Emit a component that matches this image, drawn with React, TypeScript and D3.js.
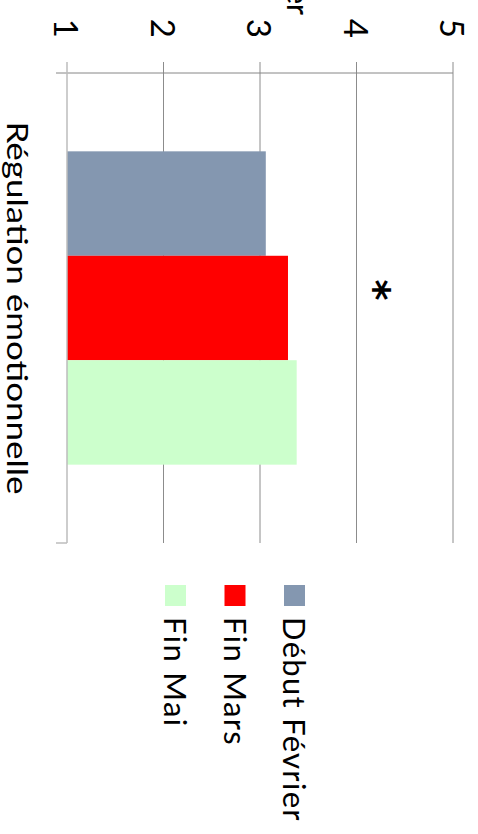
import React from "react";
import * as d3 from "d3";

// Mean scores per survey period (scale 1–5)
const categories = ["Régulation émotionnelle"];
const periods = ["Début Février", "Fin Mars", "Fin Mai"];
const scores = [[3.06, 3.29, 3.38]];
const periodColors = ["#8497B0", "#FF0000", "#CCFFCC"];
const valueTicks = [1, 2, 3, 4, 5];
const significance = [{ category: "Régulation émotionnelle", value: 4.25, mark: "*" }];
const axisTitle = "Février";

// Chart is laid out in a landscape frame, then turned a quarter-turn onto the page.
const PAGE_W = 478;
const PAGE_H = 834;
const FONT = "Lato, 'Open Sans', sans-serif";

export default function App() {
  const x = d3
    .scaleBand<string>()
    .domain(categories)
    .range([73, 543])
    .paddingInner(0)
    .paddingOuter(0.25);
  const xs = d3.scaleBand<string>().domain(periods).range([0, x.bandwidth()]);
  const y = d3.scaleLinear().domain([1, 5]).range([411, 25]);

  const plotLeft = 73;
  const plotRight = 543;
  const tickLen = 11;

  return (
    <div style={{ position: "fixed", left: 0, top: 0, width: PAGE_W, height: PAGE_H, background: "#fff" }}>
      <svg width={PAGE_W} height={PAGE_H} style={{ display: "block" }} fontFamily={FONT}>
        <g transform={`translate(${PAGE_W},0) rotate(90)`}>
          {/* partial axis title, running off the top edge */}
          <text x={15} y={191} fontSize={30} textAnchor="end" fill="#000">
            {axisTitle}
          </text>

          {/* gridlines + value ticks */}
          {valueTicks
            .filter((t) => t !== 1)
            .map((t) => (
              <line
                key={t}
                x1={plotLeft - tickLen}
                x2={plotRight}
                y1={y(t)}
                y2={y(t)}
                stroke="#8c8c8c"
                strokeWidth={1}
              />
            ))}

          {/* tick labels */}
          {valueTicks.map((t) => (
            <text
              key={t}
              x={38}
              y={y(t)}
              fontSize={33}
              textAnchor="end"
              dominantBaseline="central"
              fill="#000"
            >
              {t}
            </text>
          ))}

          {/* bars */}
          {categories.map((c, ci) =>
            periods.map((p, pi) => (
              <rect
                key={c + p}
                x={(x(c) ?? 0) + (xs(p) ?? 0)}
                y={y(scores[ci][pi])}
                width={xs.bandwidth()}
                height={y(1) - y(scores[ci][pi])}
                fill={periodColors[pi]}
              />
            ))
          )}

          {/* value axis line */}
          <line
            x1={plotLeft}
            x2={plotLeft}
            y1={y(5)}
            y2={y(1) + tickLen}
            stroke="#868686"
            strokeWidth={1}
          />
          {/* category axis line */}
          <line
            x1={plotLeft - tickLen}
            x2={plotRight}
            y1={y(1)}
            y2={y(1)}
            stroke="#bcbcbc"
            strokeWidth={1.5}
          />
          <line
            x1={plotRight}
            x2={plotRight}
            y1={y(1)}
            y2={y(1) + tickLen}
            stroke="#bcbcbc"
            strokeWidth={1.5}
          />

          {/* category labels */}
          {categories.map((c) => (
            <text
              key={c}
              x={(x(c) ?? 0) + x.bandwidth() / 2}
              y={471}
              fontSize={28}
              textAnchor="middle"
              textLength={373}
              lengthAdjust="spacingAndGlyphs"
              fill="#000"
            >
              {c}
            </text>
          ))}

          {/* significance marks */}
          {significance.map((s) => (
            <text
              key={s.category}
              x={(x(s.category) ?? 0) + x.bandwidth() / 2 - 18}
              y={y(s.value)}
              dy="0.48em"
              fontSize={40}
              fontFamily="'DejaVu Sans', sans-serif"
              fontWeight="bold"
              textAnchor="middle"
              fill="#000"
            >
              {s.mark}
            </text>
          ))}

          {/* legend */}
          {periods.map((p, i) => {
            const cy = 183.5 + i * 59.5;
            return (
              <g key={p}>
                <rect x={585} y={cy - 10.5} width={21} height={21} fill={periodColors[i]} />
                <text x={617} y={cy + 11.5} fontSize={31} letterSpacing={1.3} fill="#000">
                  {p}
                </text>
              </g>
            );
          })}
        </g>
      </svg>
    </div>
  );
}
